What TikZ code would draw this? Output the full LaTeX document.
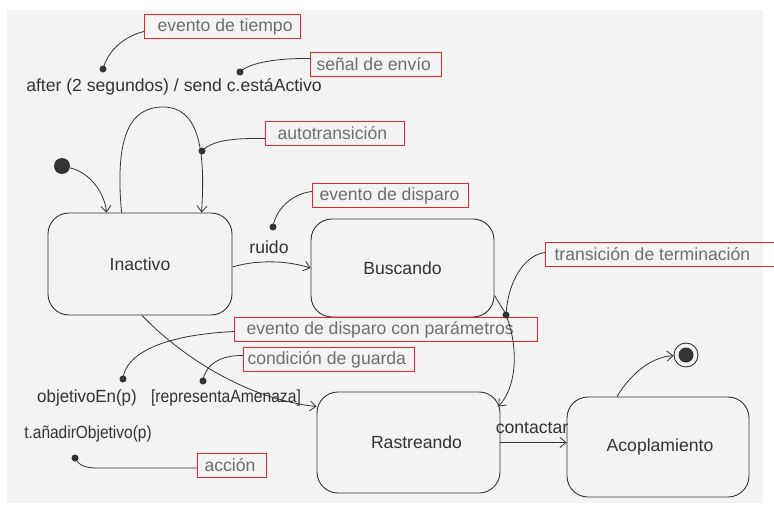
\documentclass[tikz,border=0pt]{standalone}
\usepackage{fontspec}
\usepackage{graphicx}
\setmainfont{Liberation Sans}
\usetikzlibrary{arrows.meta,calc}
\definecolor{ink}{HTML}{333333}
\definecolor{note}{HTML}{6E6E6E}
\definecolor{bgfill}{HTML}{F3F3F3}
\definecolor{redbox}{HTML}{E8262B}
\newcommand\notetext[3]{\makebox[#1][l]{\hspace{#2}#3}}
\begin{document}
\begin{tikzpicture}[x=1pt,y=-1pt,
  every node/.style={font=\fontsize{17.6}{20}\selectfont},
  statebox/.style={draw=ink, line width=0.9pt, rounded corners=21pt, text=ink, inner sep=0pt},
  notebox/.style={draw=redbox, line width=1.1pt, text=note, minimum height=24pt, inner sep=0pt, anchor=north west},
  lbl/.style={text=ink, inner sep=1pt},
  dotnode/.style={circle, fill=ink, inner sep=0pt, minimum size=7pt},
  conn/.style={draw=ink, line width=0.8pt},
  arr/.style={conn, -{Straight Barb[length=6pt,width=10pt]}},
]
\useasboundingbox (0,0) rectangle (774,506);
\fill[bgfill] (7,10) rectangle (763,503);

% states
\node[statebox, minimum width=184pt, minimum height=102pt] (ina) at (140,264) {Inactivo};
\node[statebox, minimum width=183pt, minimum height=98pt] (bus) at (402.5,268) {Buscando};
\node[statebox, minimum width=183pt, minimum height=101pt] (ras) at (408.5,442.5) {\hspace{16pt}Rastreando};
\node[statebox, minimum width=182pt, minimum height=100pt] (aco) at (658,447) {\hspace{4pt}Acoplamiento};

% initial / final
\node[circle, fill=ink, minimum size=16pt, inner sep=0pt] (init) at (62,166) {};
\node[circle, draw=ink, line width=0.9pt, minimum size=24pt, inner sep=0pt] (fin) at (686,355) {};
\node[circle, fill=ink, minimum size=15pt, inner sep=0pt] (finin) at (686,355) {};

% labels
\node[lbl] (after) at (174,87) {after (2 segundos) / send c.estáActivo};
\node[lbl] (ruido) at (269,247) {ruido};
\node[lbl] (objet) at (87,398) {\scalebox{0.96}[1]{objetivoEn(p)}};
\node[lbl] (guard) at (226,398) {\scalebox{0.89}[1]{[representaAmenaza]}};
\node[lbl] (accl) at (88,434) {\scalebox{0.88}[1]{t.añadirObjetivo(p)}};
\node[lbl] (cont) at (532,428) {contactar};

% annotation boxes
\node[notebox] (tiempo) at (144,14) {\notetext{156pt}{13pt}{evento de tiempo}};
\node[notebox] (envio) at (310,52) {\notetext{131pt}{6pt}{señal de envío}};
\node[notebox] (auto) at (265,121) {\notetext{139pt}{12pt}{autotransición}};
\node[notebox] (disp) at (312,183) {\notetext{156pt}{7pt}{evento de disparo}};
\node[notebox] (term) at (545,242) {\notetext{240pt}{9pt}{transición de terminación}};
\node[notebox] (param) at (234,317) {\notetext{303pt}{12pt}{evento de disparo con parámetros}};
\node[notebox] (guarda) at (243,347) {\notetext{171pt}{4pt}{condición de guarda}};
\node[notebox] (accion) at (197,453) {\notetext{69pt}{7pt}{acción}};

% dots
\node[dotnode] (dtiempo) at (103,69) {};
\node[dotnode] (denvio) at (240,72) {};
\node[dotnode] (dauto) at (202,151) {};
\node[dotnode] (ddisp) at (273,227) {};
\node[dotnode] (dterm) at (506,315) {};
\node[dotnode] (dparam) at (123,379) {};
\node[dotnode] (dguarda) at (203,381) {};
\node[dotnode] (daccion) at (75,458) {};

% transitions
\draw[arr] (init) .. controls (88,172) and (104,190) .. ([xshift=59pt]ina.north west);
\draw[arr] ([xshift=74pt]ina.north west) .. controls (115,140) and (128,107) .. (163,107)
  .. controls (197,107) and (206,145) .. ([xshift=154pt]ina.north west);
\draw[arr] ([yshift=-3pt]ina.east) .. controls (252,261) and (282,259) .. (bus.west);
\draw[arr] ([yshift=22pt]bus.south east) .. controls (498,302) and (503,308) .. (dterm.center)
  .. controls (518,345) and (518,385) .. ([xshift=-2pt,yshift=-15pt]ras.north east);
\draw[arr] ([xshift=2pt]ina.south) .. controls (175,350) and (240,398) .. ([yshift=-15pt]ras.north west);
\draw[arr] (ras.east) -- (ras.east -| aco.west);
\draw[arr] ([xshift=-41pt]aco.north) .. controls (630,375) and (650,357) .. (fin);

% annotation connectors
\draw[conn] (dtiempo.center) .. controls (108,50) and (125,36) .. ([yshift=-5pt]tiempo.west);
\draw[conn] (denvio.center) .. controls (250,62) and (280,58) .. ([yshift=6pt]envio.west);
\draw[conn] (dauto.center) .. controls (212,140) and (235,138) .. ([yshift=-5pt]auto.west);
\draw[conn] (ddisp.center) .. controls (276,207) and (295,193) .. ([yshift=4pt]disp.west);
\draw[conn] (dterm.center) .. controls (508,280) and (525,255) .. ([yshift=2pt]term.west);
\draw[conn] (dparam.center) .. controls (125,355) and (160,335) .. ([yshift=-2pt]param.west);
\draw[conn] (dguarda.center) .. controls (205,365) and (220,355) .. ([yshift=4pt]guarda.west);
\draw[conn] (daccion.center) .. controls (80,468) and (90,468) .. (100,468) -- (accion.west |- 0,468);
\end{tikzpicture}
\end{document}
